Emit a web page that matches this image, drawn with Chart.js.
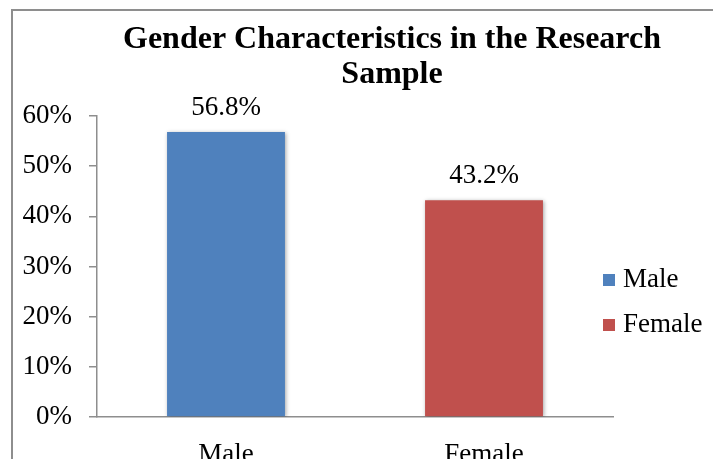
<!DOCTYPE html>
<html>
<head>
<meta charset="utf-8">
<script src="https://cdn.jsdelivr.net/npm/chart.js@4"></script>
<style>
  html, body { margin: 0; padding: 0; background: #fff; overflow: hidden; width: 713px; height: 459px; }
  #frame { position: absolute; left: 11px; top: 9px; width: 760px; height: 520px; border: 2px solid #8e8e8e; }
  #chart { position: absolute; left: 0; top: 0; }
</style>
</head>
<body>
<div id="frame"><canvas id="chart" width="700" height="470"></canvas></div>
<script>
// values
const categories = ['Male', 'Female'];
const shares = [56.8, 43.2];
const barColors = ['#4F81BD', '#C0504D'];
const titleLines = ['Gender Characteristics in the Research', 'Sample'];
const yMax = 60;
const yStep = 10;

const axisColor = '#8e8e8e';
const serif = '"Liberation Serif", "Times New Roman", serif';

// title, legend and value labels drawn on top of the bars
const overlay = {
  id: 'overlay',
  beforeDatasetsDraw(chart) {
    const ctx = chart.ctx;
    ctx.save();
    ctx.shadowColor = 'rgba(0,0,0,0.35)';
    ctx.shadowBlur = 4;
    ctx.shadowOffsetX = 1;
    ctx.shadowOffsetY = 1;
  },
  afterDatasetsDraw(chart) {
    const ctx = chart.ctx;
    ctx.restore();
    ctx.save();
    ctx.fillStyle = '#000';

    // value labels
    ctx.font = `27px ${serif}`;
    ctx.textAlign = 'center';
    ctx.textBaseline = 'alphabetic';
    chart.getDatasetMeta(0).data.forEach((bar, i) => {
      ctx.fillText(`${shares[i].toFixed(1)}%`, bar.x, bar.y - 17);
    });

    // title
    ctx.font = `bold 32px ${serif}`;
    titleLines.forEach((line, i) => ctx.fillText(line, 379, 37 + i * 35));

    // legend
    ctx.font = `27px ${serif}`;
    ctx.textAlign = 'left';
    ctx.textBaseline = 'middle';
    chart.data.labels.forEach((label, i) => {
      const y = 269 + i * 45;
      ctx.fillStyle = barColors[i];
      ctx.fillRect(590, y - 6, 12, 12);
      ctx.fillStyle = '#000';
      ctx.fillText(label, 610, y);
    });
    ctx.restore();
  }
};

new Chart(document.getElementById('chart'), {
  type: 'bar',
  data: {
    labels: categories,
    datasets: [{
      data: shares,
      backgroundColor: barColors,
      categoryPercentage: 1,
      barPercentage: 0.457,
    }]
  },
  options: {
    responsive: false,
    animation: false,
    events: [],
    layout: { padding: { top: 105, right: 100, left: 0, bottom: 0 } },
    plugins: {
      legend: { display: false },
      title: { display: false },
      tooltip: { enabled: false },
    },
    scales: {
      x: {
        grid: { display: false },
        border: { display: true, color: axisColor, width: 1.5 },
        ticks: { color: '#000', font: { family: serif, size: 27 }, padding: 14 },
        afterFit(scale) { scale.height = 64; },
      },
      y: {
        min: 0,
        max: yMax,
        ticks: {
          stepSize: yStep,
          color: '#000',
          font: { family: serif, size: 27 },
          padding: 17,
          callback: (v) => `${v}%`,
        },
        grid: { drawOnChartArea: false, tickLength: 8, color: axisColor, lineWidth: 1.5 },
        border: { display: true, color: axisColor, width: 1.5 },
        afterFit(scale) { scale.width = 84; },
      }
    }
  },
  plugins: [overlay],
});
</script>
</body>
</html>
